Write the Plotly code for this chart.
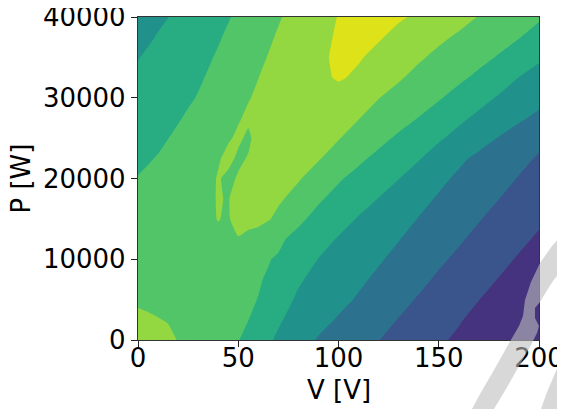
import plotly.graph_objects as go

# Grid of the contour field
V = [0, 5, 10, 15, 20, 25, 30, 35, 40, 45, 50, 55, 60, 65, 70,
     80, 90, 100, 110, 120, 130, 140, 150, 160, 170, 180, 190, 200]
P = [0, 2500, 5000, 7500, 10000, 12500, 15000, 17500, 20000,
     22500, 25000, 27500, 30000, 32500, 35000, 37500, 40000]

Z = [
    [7.5, 7.43, 7.37, 7.3, 6.95, 6.8, 6.64, 6.49, 6.34, 6.18, 6.03, 5.76, 5.45, 5.12, 4.87,
     4.37, 3.92, 3.62, 3.32, 3.02, 2.71, 2.40, 2.09, 1.90, 1.75, 1.60, 1.45, 1.3],
    [7.3, 7.17, 7.05, 6.93, 6.81, 6.70, 6.58, 6.47, 6.35, 6.24, 6.12, 6.01, 5.72, 5.41, 5.10,
     4.68, 4.29, 3.92, 3.60, 3.29, 2.97, 2.66, 2.36, 2.05, 1.83, 1.62, 1.41, 1.2],
    [6.8, 6.73, 6.67, 6.60, 6.53, 6.47, 6.40, 6.33, 6.26, 6.20, 6.13, 6.06, 5.99, 5.68, 5.37,
     4.87, 4.55, 4.23, 3.91, 3.58, 3.24, 2.93, 2.62, 2.32, 2.01, 1.77, 1.53, 1.3],
    [6.6, 6.55, 6.51, 6.46, 6.41, 6.37, 6.32, 6.27, 6.23, 6.18, 6.13, 6.09, 6.04, 5.95, 5.67,
     5.10, 4.75, 4.45, 4.15, 3.84, 3.52, 3.20, 2.88, 2.57, 2.27, 1.97, 1.68, 1.4],
    [6.6, 6.56, 6.51, 6.47, 6.42, 6.38, 6.34, 6.29, 6.25, 6.21, 6.16, 6.12, 6.07, 6.03, 5.93,
     5.44, 4.98, 4.68, 4.39, 4.09, 3.78, 3.46, 3.14, 2.84, 2.53, 2.23, 1.92, 1.6],
    [6.6, 6.64, 6.67, 6.71, 6.74, 6.78, 6.81, 6.85, 6.88, 6.92, 6.95, 6.75, 6.55, 6.35, 6.15,
     5.74, 5.32, 4.94, 4.64, 4.34, 4.03, 3.72, 3.41, 3.10, 2.79, 2.49, 2.19, 1.88],
    [6.5, 6.54, 6.58, 6.61, 6.65, 6.69, 6.73, 6.9, 7.02, 6.93, 7.3, 7.3, 7.3, 7.07, 6.78,
     6.18, 5.72, 5.32, 4.94, 4.62, 4.29, 3.97, 3.66, 3.36, 3.05, 2.75, 2.44, 2.14],
    [6.45, 6.5, 6.55, 6.6, 6.65, 6.7, 6.75, 6.85, 7.05, 6.95, 7.35, 7.4, 7.4, 7.26, 7.13,
     6.70, 6.12, 5.71, 5.34, 4.98, 4.62, 4.25, 3.91, 3.61, 3.31, 3.01, 2.70, 2.40],
    [6.03, 6.12, 6.22, 6.31, 6.41, 6.5, 6.6, 6.7, 7.08, 6.8, 7.08, 7.3, 7.35, 7.4, 7.29,
     7.07, 6.63, 6.10, 5.72, 5.37, 5.02, 4.61, 4.20, 3.85, 3.55, 3.26, 2.96, 2.66],
    [5.85, 5.94, 6.04, 6.18, 6.31, 6.46, 6.59, 6.73, 6.9, 7.25, 6.85, 7.05, 7.35, 7.4, 7.45,
     7.25, 7.06, 6.66, 6.18, 5.78, 5.42, 5.06, 4.63, 4.17, 3.81, 3.52, 3.22, 2.92],
    [5.6, 5.73, 5.86, 5.99, 6.14, 6.29, 6.44, 6.59, 6.7, 6.9, 7.15, 6.85, 7.35, 7.38, 7.42,
     7.37, 7.20, 7.04, 6.68, 6.26, 5.86, 5.49, 5.11, 4.73, 4.35, 3.96, 3.59, 3.22],
    [5.4, 5.54, 5.67, 5.81, 5.94, 6.09, 6.26, 6.42, 6.59, 6.75, 6.92, 7.15, 7.3, 7.35, 7.4,
     7.5, 7.34, 7.18, 7.03, 6.70, 6.34, 5.98, 5.58, 5.18, 4.82, 4.49, 4.14, 3.80],
    [5.3, 5.42, 5.54, 5.66, 5.78, 5.90, 6.04, 6.22, 6.40, 6.59, 6.77, 6.95, 7.13, 7.3, 7.35,
     7.45, 7.55, 7.48, 7.25, 7.02, 6.72, 6.40, 6.08, 5.70, 5.29, 4.92, 4.60, 4.29],
    [5.2, 5.32, 5.44, 5.56, 5.68, 5.80, 5.90, 6.06, 6.24, 6.43, 6.62, 6.81, 6.99, 7.2, 7.4,
     7.55, 7.7, 8.13, 7.8, 7.44, 7.09, 6.77, 6.47, 6.17, 5.82, 5.41, 4.99, 4.71],
    [4.97, 5.11, 5.24, 5.38, 5.51, 5.65, 5.79, 5.92, 6.08, 6.27, 6.46, 6.66, 6.85, 7.03, 7.19,
     7.5, 7.82, 8.16, 8.1, 7.71, 7.37, 7.10, 6.82, 6.53, 6.24, 5.93, 5.52, 5.11],
    [4.75, 4.90, 5.05, 5.20, 5.35, 5.50, 5.64, 5.79, 5.93, 6.11, 6.30, 6.50, 6.69, 6.89, 7.08,
     7.43, 7.76, 8.10, 8.45, 8.10, 7.71, 7.38, 7.15, 6.89, 6.61, 6.32, 6.04, 5.64],
    [4.6, 4.73, 4.86, 4.99, 5.15, 5.31, 5.47, 5.63, 5.79, 5.95, 6.13, 6.33, 6.53, 6.73, 6.93,
     7.30, 7.67, 8.03, 8.34, 8.37, 8.12, 7.85, 7.56, 7.26, 6.97, 6.69, 6.40, 6.12],
]

LEVEL_START = 1
LEVEL_END = 8
BAND_COLORS = ["#440154", "#46337f", "#3a548c", "#2c728e", "#21918c",
               "#27ad81", "#52c569", "#93d741", "#dde318"]

X_TICKS = [0, 50, 100, 150, 200]
Y_TICKS = [0, 10000, 20000, 30000, 40000]
Y_TICK_TEXT = ["0", "10000", "20000", "30000", "40000"]

# stepwise colorscale: band k sits at k/n
n = len(BAND_COLORS) - 1
colorscale = []
for k, c in enumerate(BAND_COLORS):
    lo = max(0.0, (k - 0.5) / n)
    hi = min(1.0, (k + 0.5) / n)
    colorscale.append([lo, c])
    colorscale.append([hi, c])

fig = go.Figure(go.Contour(
    x=V, y=P, z=Z,
    autocontour=False,
    contours=dict(start=LEVEL_START, end=LEVEL_END, size=1,
                  coloring="fill", showlines=False),
    colorscale=colorscale,
    showscale=False,
    line=dict(width=0, smoothing=0.4),
    hoverinfo="skip",
))

FONT = "DejaVu Sans"
FS = 26
axis_common = dict(
    ticks="outside", ticklen=6, tickwidth=1.3, tickcolor="#222",
    showline=True, linecolor="#333", linewidth=1.3, mirror=True,
    showgrid=False, zeroline=False, automargin=False,
    ticklabeloverflow="allow",
    tickfont=dict(family=FONT, size=FS, color="black"),
)
fig.update_xaxes(range=[0, 200], tickvals=X_TICKS, ticklabelstandoff=-11, **axis_common)
fig.update_yaxes(range=[0, 40000], tickvals=Y_TICKS, ticktext=Y_TICK_TEXT, **axis_common)

# faint grey watermark fragment at the lower right (page pixel outline)
PLOT_L, PLOT_T, PLOT_W, PLOT_H = 138, 17, 401, 323
WM_HOOK = [(565, 232), (552, 246), (540, 263), (531, 282), (525, 300), (523, 316),
           (519, 326), (508, 345), (494, 370), (480, 394), (472, 409), (494, 409),
           (506, 389), (519, 366), (531, 345), (537, 333), (539, 326), (535, 318),
           (535, 308), (540, 302), (546, 292), (553, 281), (560, 272), (565, 266)]
WM_CORNER = [(565, 352), (556, 371), (547, 392), (541, 409), (565, 409)]


def page_path(pts):
    out = []
    for i, (px, py) in enumerate(pts):
        xp = (px - PLOT_L) / PLOT_W
        yp = (PLOT_T + PLOT_H - py) / PLOT_H
        out.append(("M" if i == 0 else "L") + f"{xp:.4f},{yp:.4f}")
    return " ".join(out) + " Z"


shapes = [dict(type="path", xref="paper", yref="paper", path=page_path(p),
               fillcolor="rgba(189,189,189,0.59)", line=dict(width=0), layer="above")
          for p in (WM_HOOK, WM_CORNER)]

# page body adds an 8px offset, so the figure is sized/margined to compensate
fig.update_layout(
    width=557, height=401,
    margin=dict(l=130, r=26, t=9, b=69, autoexpand=False),
    paper_bgcolor="white", plot_bgcolor="white",
    font=dict(family=FONT, size=FS, color="black"),
    showlegend=False,
    shapes=shapes,
    annotations=[
        dict(text="V [V]", xref="paper", yref="paper", x=0.5, y=0,
             xanchor="center", yanchor="top", yshift=-33, showarrow=False,
             font=dict(family=FONT, size=FS, color="black")),
        dict(text="P [W]", xref="paper", yref="paper", x=(20 - 138) / 401, y=0.5,
             xanchor="center", yanchor="middle", textangle=-90, showarrow=False,
             font=dict(family=FONT, size=FS, color="black")),
    ],
)

fig.write_html("out.html")
